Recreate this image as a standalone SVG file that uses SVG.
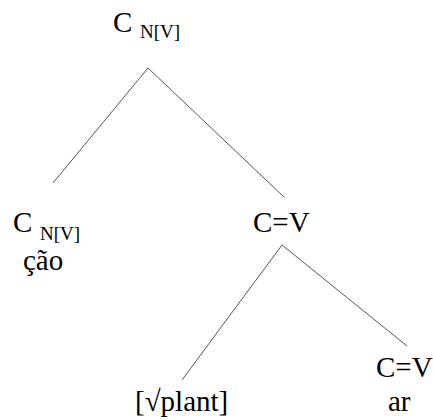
<svg xmlns="http://www.w3.org/2000/svg" width="433" height="420" viewBox="0 0 433 420">
<style>
text{font-family:'Liberation Serif','Times New Roman',serif;fill:#000;font-size:29px}
.sub{font-size:19px}
.edge{stroke:#555;stroke-width:1;fill:none}
</style>
<rect width="433" height="420" fill="#fff"/>
<g id="connectors">
<line class="edge" x1="148" y1="68" x2="53" y2="183"/>
<line class="edge" x1="148" y1="68" x2="284" y2="197"/>
<line class="edge" x1="282" y1="245" x2="182" y2="380"/>
<line class="edge" x1="282" y1="245" x2="407" y2="346"/>
</g>
<g id="root"><text x="113" y="32">C</text><text class="sub" x="140" y="38">N[V]</text></g>
<g id="left"><text x="13" y="232">C</text><text class="sub" x="40" y="240">N[V]</text><text x="23" y="270">ção</text></g>
<g id="mid"><text x="253" y="232">C=V</text></g>
<g id="plant"><text x="135" y="411">[√plant]</text></g>
<g id="right"><text x="376" y="377">C=V</text><text x="388" y="411">ar</text></g>
</svg>
